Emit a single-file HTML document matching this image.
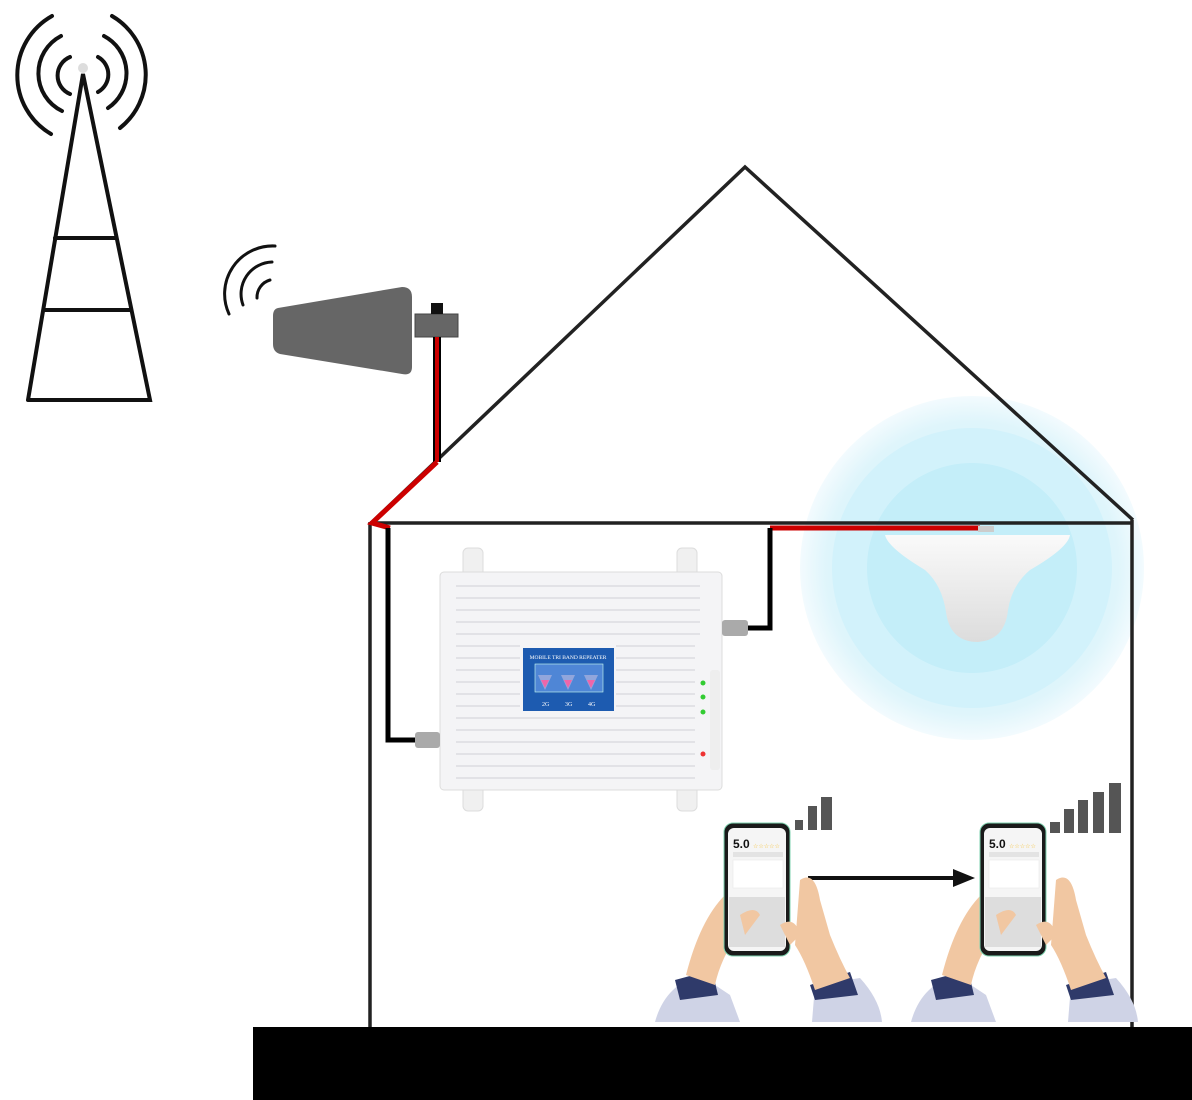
<!DOCTYPE html>
<html><head><meta charset="utf-8"><style>
html,body{margin:0;padding:0;background:#fff;}
svg{display:block;}
</style></head><body>
<svg width="1192" height="1100" viewBox="0 0 1192 1100" xmlns="http://www.w3.org/2000/svg" font-family="Liberation Sans, sans-serif">
<defs>
<radialGradient id="glow" cx="0.5" cy="0.5" r="0.5">
<stop offset="0" stop-color="#c6eff9"/>
<stop offset="0.85" stop-color="#dff5fb"/>
<stop offset="1" stop-color="#f3fbfe"/>
</radialGradient>
<linearGradient id="dome" x1="0" y1="0" x2="0" y2="1">
<stop offset="0" stop-color="#fafafa"/><stop offset="1" stop-color="#dcdcdc"/>
</linearGradient>
</defs>

<!-- glow -->
<circle cx="972" cy="568" r="172" fill="url(#glow)"/>
<circle cx="972" cy="568" r="140" fill="#d2f2fb"/>
<circle cx="972" cy="568" r="105" fill="#c4eef9"/>

<!-- tower -->
<g stroke="#111" stroke-width="4" fill="none" stroke-linecap="round">
<polyline points="28,400 83,74 150,400 28,400"/>
<line x1="55" y1="238" x2="115" y2="238"/>
<line x1="44" y1="310" x2="130" y2="310"/>
<path d="M70,57 A20,20 0 0 0 70,94"/>
<path d="M98,57 A20,20 0 0 1 98,92"/>
<path d="M61,36 A42,42 0 0 0 62,111"/>
<path d="M104,36 A42,42 0 0 1 108,108"/>
<path d="M52,16 A68,68 0 0 0 51,134"/>
<path d="M112,16 A68,68 0 0 1 120,128"/>
</g>
<circle cx="83" cy="68" r="5" fill="#ddd"/>

<!-- yagi waves -->
<g stroke="#111" stroke-width="3" fill="none" stroke-linecap="round">
<path d="M257,298 A18,18 0 0 1 270,280"/>
<path d="M243,305 A32,32 0 0 1 272,262"/>
<path d="M229,314 A48,48 0 0 1 275,246"/>
</g>
<!-- yagi -->
<path d="M278,308 L402,287 Q412,287 412,297 L412,367 Q412,376 402,374 L280,354 Q273,352 273,344 L273,316 Q273,309 278,308Z" fill="#666"/>
<rect x="415" y="314" width="43" height="23" fill="#666" stroke="#444"/>
<rect x="431" y="303" width="12" height="11" fill="#111"/>

<!-- house -->
<g stroke="#222" stroke-width="3.5" fill="none">
<polyline points="370,524 745,167 1133,520"/>
<line x1="370" y1="523" x2="1133" y2="523"/>
<line x1="370" y1="522" x2="370" y2="1027"/>
<line x1="1132" y1="520" x2="1132" y2="1027"/>
</g>
<rect x="253" y="1027" width="939" height="73" fill="#000"/>

<!-- cables -->
<line x1="437" y1="337" x2="437" y2="462" stroke="#000" stroke-width="8"/>
<line x1="437" y1="337" x2="437" y2="462" stroke="#c00" stroke-width="4"/>
<polyline points="437,462 372,523 390,528" stroke="#c00" stroke-width="5" fill="none"/>
<polyline points="388,528 388,740 415,740" stroke="#000" stroke-width="5" fill="none"/>
<line x1="770" y1="528" x2="980" y2="528" stroke="#c00" stroke-width="5"/>
<polyline points="770,528 770,628 748,628" stroke="#000" stroke-width="5" fill="none"/>

<!-- dome antenna -->
<path d="M885,535 L1070,535 Q1068,548 1030,570 Q1012,585 1008,610 Q1005,640 978,642 Q950,642 946,612 Q942,585 925,570 Q888,548 885,535Z" fill="url(#dome)"/>
<rect x="978" y="526" width="16" height="6" fill="#ccc"/>

<!-- repeater -->
<rect x="463" y="548" width="20" height="30" rx="5" fill="#f0f0f0" stroke="#ddd"/>
<rect x="677" y="548" width="20" height="30" rx="5" fill="#f0f0f0" stroke="#ddd"/>
<rect x="463" y="785" width="20" height="26" rx="5" fill="#f0f0f0" stroke="#ddd"/>
<rect x="677" y="785" width="20" height="26" rx="5" fill="#f0f0f0" stroke="#ddd"/>
<rect x="440" y="572" width="282" height="218" rx="4" fill="#f4f4f6" stroke="#dcdcdc"/>
<g stroke="#e2e2e6" stroke-width="2">
<line x1="456" y1="586" x2="700" y2="586"/><line x1="456" y1="598" x2="700" y2="598"/>
<line x1="456" y1="610" x2="700" y2="610"/><line x1="456" y1="622" x2="700" y2="622"/>
<line x1="456" y1="634" x2="700" y2="634"/><line x1="456" y1="646" x2="520" y2="646"/>
<line x1="456" y1="658" x2="520" y2="658"/><line x1="456" y1="670" x2="520" y2="670"/>
<line x1="456" y1="682" x2="520" y2="682"/><line x1="456" y1="694" x2="520" y2="694"/>
<line x1="456" y1="706" x2="520" y2="706"/><line x1="616" y1="646" x2="695" y2="646"/>
<line x1="616" y1="658" x2="695" y2="658"/><line x1="616" y1="670" x2="695" y2="670"/>
<line x1="616" y1="682" x2="695" y2="682"/><line x1="616" y1="694" x2="695" y2="694"/>
<line x1="616" y1="706" x2="695" y2="706"/>
<line x1="456" y1="718" x2="695" y2="718"/><line x1="456" y1="730" x2="695" y2="730"/>
<line x1="456" y1="742" x2="695" y2="742"/><line x1="456" y1="754" x2="695" y2="754"/>
<line x1="456" y1="766" x2="695" y2="766"/><line x1="456" y1="778" x2="695" y2="778"/>
</g>
<rect x="523" y="648" width="91" height="63" fill="#1d5bb0"/>
<rect x="535" y="664" width="68" height="28" fill="#4f86d6" stroke="#cfe" stroke-width="0.6"/>
<text x="568" y="659" font-size="5.5" fill="#fff" text-anchor="middle" font-family="Liberation Serif, serif">MOBILE TRI BAND REPEATER</text>
<g fill="#9ad" opacity="0.9"><path d="M538,675 L552,675 L545,690Z"/><path d="M561,675 L575,675 L568,690Z"/><path d="M584,675 L598,675 L591,690Z"/></g>
<g fill="#e6a"><path d="M541,680 L549,680 L545,688Z"/><path d="M564,680 L572,680 L568,688Z"/><path d="M587,680 L595,680 L591,688Z"/></g>
<text x="542" y="706" font-size="6" fill="#fff" font-family="Liberation Serif, serif">2G</text>
<text x="565" y="706" font-size="6" fill="#fff" font-family="Liberation Serif, serif">3G</text>
<text x="588" y="706" font-size="6" fill="#fff" font-family="Liberation Serif, serif">4G</text>
<rect x="710" y="670" width="10" height="100" rx="3" fill="#eee"/>
<circle cx="703" cy="683" r="2.5" fill="#3c3"/><circle cx="703" cy="697" r="2.5" fill="#3c3"/>
<circle cx="703" cy="712" r="2.5" fill="#3c3"/><circle cx="703" cy="754" r="2.5" fill="#e33"/>
<rect x="722" y="620" width="26" height="16" rx="3" fill="#aaa"/>
<rect x="415" y="732" width="25" height="16" rx="3" fill="#aaa"/>

<!-- arrow -->
<line x1="808" y1="878" x2="955" y2="878" stroke="#111" stroke-width="4"/>
<path d="M953,869 L975,878 L953,887Z" fill="#111"/>

<!-- bars -->
<g fill="#555">
<rect x="795" y="820" width="8" height="10"/><rect x="808" y="806" width="9" height="24"/><rect x="821" y="797" width="11" height="33"/>
<rect x="1050" y="822" width="10" height="11"/><rect x="1064" y="809" width="10" height="24"/><rect x="1078" y="800" width="10" height="33"/>
<rect x="1093" y="792" width="11" height="41"/><rect x="1109" y="783" width="12" height="50"/>
</g>

<!-- phones with hands -->
<g id="p1">
<path d="M655,1022 Q665,985 700,975 L730,995 L740,1022Z" fill="#cfd3e6"/>
<path d="M675,980 L712,970 L718,995 L680,1000Z" fill="#2f3a6a"/>
<path d="M812,1022 L815,985 L860,978 Q880,1000 882,1022Z" fill="#cfd3e6"/>
<path d="M810,985 L850,972 L858,995 L815,1000Z" fill="#2f3a6a"/>
<path d="M686,975 Q700,920 725,895 L738,905 L740,930 Q720,960 715,985Z" fill="#f1c7a2"/>
<path d="M800,880 Q815,870 820,900 L830,935 Q840,960 850,978 L815,990 Q805,960 795,945Z" fill="#f1c7a2"/>
<rect x="724" y="823" width="66" height="133" rx="9" fill="#1a1a1a" stroke="#7fd3b0" stroke-width="1"/>
<rect x="728" y="828" width="58" height="123" rx="6" fill="#f5f5f5"/>
<text x="733" y="848" font-size="12" font-weight="bold" fill="#111">5.0</text>
<text x="753" y="848" font-size="6" fill="#f5c542">☆☆☆☆☆</text>
<rect x="733" y="852" width="50" height="5" fill="#e3e3e3"/>
<rect x="733" y="860" width="50" height="28" fill="#fff" stroke="#e5e5e5" stroke-width="0.5"/>
<rect x="729" y="897" width="56" height="50" fill="#ddd"/>
<path d="M740,915 Q755,905 760,915 L745,935Z" fill="#f1c7a2"/>
<path d="M780,925 Q795,915 800,935 L790,945Z" fill="#f1c7a2"/>
</g>
<use href="#p1" transform="translate(256,0)"/>
</svg>
</body></html>
